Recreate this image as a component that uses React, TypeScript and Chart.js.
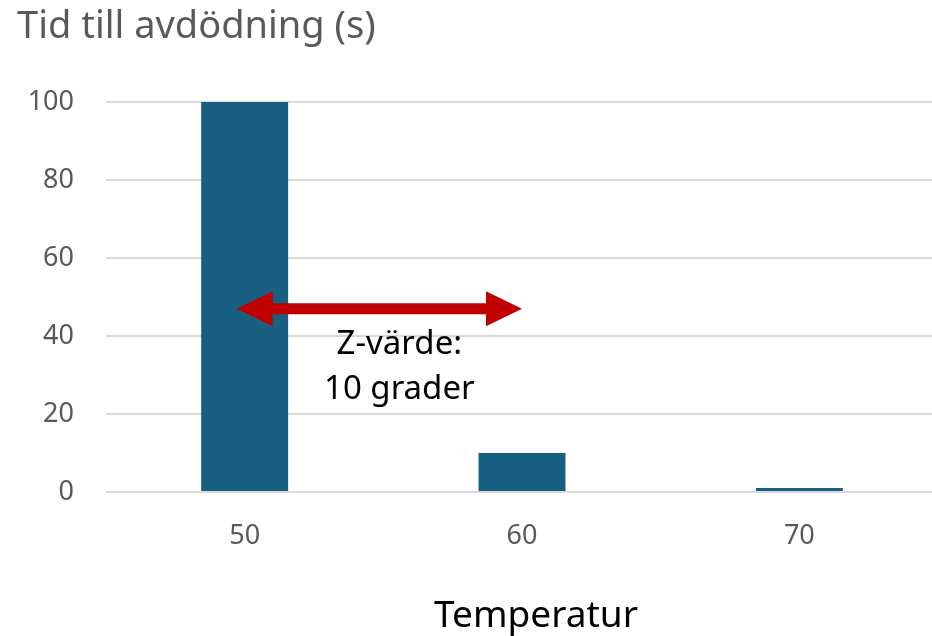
import React, { useEffect, useRef } from "react";
import { Chart, registerables } from "chart.js";

Chart.register(...registerables);

const categories = ["50", "60", "70"];
const values = [100, 10, 1];
const yMin = 0;
const yMax = 100;
const yStep = 20;
const chartTitle = "Tid till avdödning (s)";
const xAxisTitle = "Temperatur";
const annotationLines = ["Z-värde:", "10 grader"];
const arrowFromIndex = 0;
const arrowToIndex = 1;
const arrowValue = 47;

const FONT = "'Noto Sans', sans-serif";
const GRAY = "#595959";
const BAR = "#185F82";
const RED = "#C00000";

const overlayPlugin = {
  id: "overlay",
  afterDatasetsDraw(chart: any) {
    const { ctx, scales } = chart;
    const xs = scales.x;
    const ys = scales.y;
    const y = ys.getPixelForValue(arrowValue);
    const x1 = xs.getPixelForValue(arrowFromIndex) - 8;
    const x2 = xs.getPixelForValue(arrowToIndex);
    const headL = 36;
    const headH = 17.5;
    const shaft = 5.5;
    ctx.save();
    ctx.fillStyle = RED;
    ctx.beginPath();
    ctx.moveTo(x1, y);
    ctx.lineTo(x1 + headL, y - headH);
    ctx.lineTo(x1 + headL, y - shaft);
    ctx.lineTo(x2 - headL, y - shaft);
    ctx.lineTo(x2 - headL, y - headH);
    ctx.lineTo(x2, y);
    ctx.lineTo(x2 - headL, y + headH);
    ctx.lineTo(x2 - headL, y + shaft);
    ctx.lineTo(x1 + headL, y + shaft);
    ctx.lineTo(x1 + headL, y + headH);
    ctx.closePath();
    ctx.fill();

    const mid = (x1 + x2) / 2 + 20;
    ctx.fillStyle = "#000000";
    ctx.font = `33px ${FONT}`;
    ctx.textAlign = "center";
    ctx.textBaseline = "alphabetic";
    annotationLines.forEach((line, i) => {
      ctx.fillText(line, mid, y + 45 + i * 45);
    });
    ctx.restore();
  },
  afterDraw(chart: any) {
    const { ctx } = chart;
    ctx.save();
    ctx.fillStyle = GRAY;
    ctx.font = `38px ${FONT}`;
    ctx.textAlign = "left";
    ctx.textBaseline = "alphabetic";
    ctx.fillText(chartTitle, 17, 38);
    ctx.fillStyle = "#000000";
    ctx.font = `37px ${FONT}`;
    ctx.textAlign = "center";
    ctx.fillText(xAxisTitle, 536, 627);
    ctx.restore();
  },
};

export default function App() {
  const ref = useRef<HTMLCanvasElement | null>(null);
  useEffect(() => {
    if (!ref.current) return;
    const chart = new Chart(ref.current, {
      type: "bar",
      data: {
        labels: categories,
        datasets: [
          {
            data: values,
            backgroundColor: BAR,
            borderWidth: 0,
            categoryPercentage: 1,
            barPercentage: 0.3135,
          },
        ],
      },
      options: {
        animation: false,
        responsive: false,
        devicePixelRatio: 1,
        layout: { padding: { left: 18, right: 2, top: 102, bottom: 0 } },
        plugins: {
          legend: { display: false },
          tooltip: { enabled: false },
          title: { display: false },
        },
        scales: {
          x: {
            grid: { display: false, drawTicks: false },
            border: { display: false },
            ticks: {
              color: GRAY,
              font: { family: FONT, size: 27 },
              padding: 28,
            },
            afterFit(scale: any) {
              scale.height = 144;
            },
          },
          y: {
            min: yMin,
            max: yMax,
            grid: { color: "#D9D9D9", lineWidth: 2, drawTicks: false },
            border: { display: false },
            ticks: {
              stepSize: yStep,
              color: GRAY,
              font: { family: FONT, size: 27 },
              padding: 32,
            },
            afterFit(scale: any) {
              scale.width = 88;
            },
          },
        },
      },
      plugins: [overlayPlugin],
    });
    return () => chart.destroy();
  }, []);
  return (
    <div
      style={{
        position: "fixed",
        left: 0,
        top: 0,
        width: 932,
        height: 636,
        overflow: "hidden",
        background: "#ffffff",
      }}
    >
      <canvas ref={ref} width={940} height={636} style={{ display: "block", width: 940, height: 636 }} />
    </div>
  );
}
